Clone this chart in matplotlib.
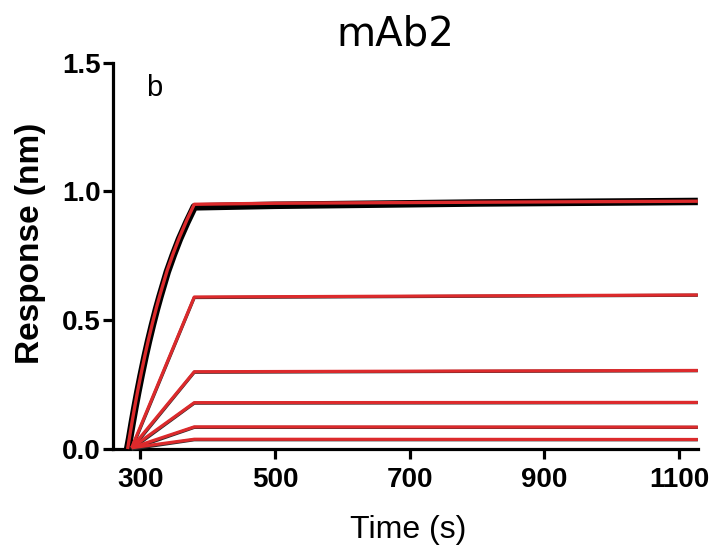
import matplotlib
matplotlib.use("Agg")
import matplotlib.pyplot as plt

# Sensorgram for mAb2: association (~281-380 s) then dissociation to the end.
time_top = [281, 284, 288, 292, 296, 301, 307, 312, 318, 324, 329, 335, 340,
            349, 358, 369, 380, 500, 800, 1128]
fit_top = [0.000, 0.049, 0.111, 0.170, 0.226, 0.292, 0.367, 0.425, 0.490,
           0.551, 0.598, 0.651, 0.695, 0.761, 0.822, 0.889, 0.950, 0.954,
           0.958, 0.962]
data_top = [0.000, 0.042, 0.104, 0.163, 0.219, 0.285, 0.360, 0.418, 0.483,
            0.544, 0.591, 0.644, 0.688, 0.754, 0.815, 0.880, 0.940, 0.946,
            0.955, 0.961]

time_low = [287, 380, 1128]
fit_low = [
    [0.005, 0.590, 0.598],
    [0.005, 0.300, 0.305],
    [0.005, 0.180, 0.181],
    [0.005, 0.086, 0.085],
    [0.005, 0.038, 0.037],
]
data_low = [
    [0.000, 0.588, 0.597],
    [0.000, 0.298, 0.304],
    [0.000, 0.178, 0.180],
    [0.000, 0.084, 0.084],
    [0.000, 0.036, 0.036],
]

x_ticks = [300, 500, 700, 900, 1100]
y_ticks = [0.0, 0.5, 1.0, 1.5]
y_tick_labels = ["0.0", "0.5", "1.0", "1.5"]

fig = plt.figure(figsize=(7.15, 5.49), dpi=100)
ax = fig.add_axes([0.1587, 0.1821, 0.976 - 0.1587, 0.886 - 0.1821])

RED = "#dc2a2c"

# measured traces (black) underneath the fitted curves (red)
ax.plot(time_top, data_top, color="black", lw=5.4, solid_capstyle="butt",
        solid_joinstyle="round", clip_on=False, zorder=2)
for d in data_low:
    ax.plot(time_low, d, color="#2a2a2a", lw=2.3, solid_capstyle="butt",
            clip_on=False, zorder=2)

ax.plot(time_top, fit_top, color=RED, lw=2.4, solid_capstyle="butt",
        solid_joinstyle="round", clip_on=False, zorder=3)
for f in fit_low:
    ax.plot(time_low, f, color=RED, lw=2.3, solid_capstyle="butt",
            clip_on=False, zorder=3)

ax.set_xlim(260, 1128)
ax.set_ylim(0, 1.5)
ax.set_xticks(x_ticks)
ax.set_yticks(y_ticks)
ax.set_yticklabels(y_tick_labels)

for side in ("top", "right"):
    ax.spines[side].set_visible(False)
for side in ("left", "bottom"):
    ax.spines[side].set_linewidth(2.3)
    ax.spines[side].set_zorder(1)

ax.tick_params(axis="both", width=2.3, length=7, direction="out")
ax.tick_params(axis="x", pad=6)
ax.tick_params(axis="y", pad=2)
for lab in ax.get_xticklabels() + ax.get_yticklabels():
    lab.set_fontfamily("Liberation Sans")
    lab.set_fontweight("bold")
    lab.set_fontsize(20)

ax.text(321, 1.40, "b", fontsize=21, family="Liberation Sans",
        ha="center", va="center")

fig.text(0.042, 0.556, "Response (nm)", rotation=90, ha="center", va="center",
         fontsize=24, fontweight="bold", family="Liberation Sans")
fig.text(0.571, 0.035, "Time (s)", ha="center", va="center",
         fontsize=23, family="Liberation Sans")
fig.text(0.5525, 0.918, "mAb2", ha="center", va="baseline",
         fontsize=29, family="DejaVu Sans")

fig.savefig("out.png", dpi=100)
